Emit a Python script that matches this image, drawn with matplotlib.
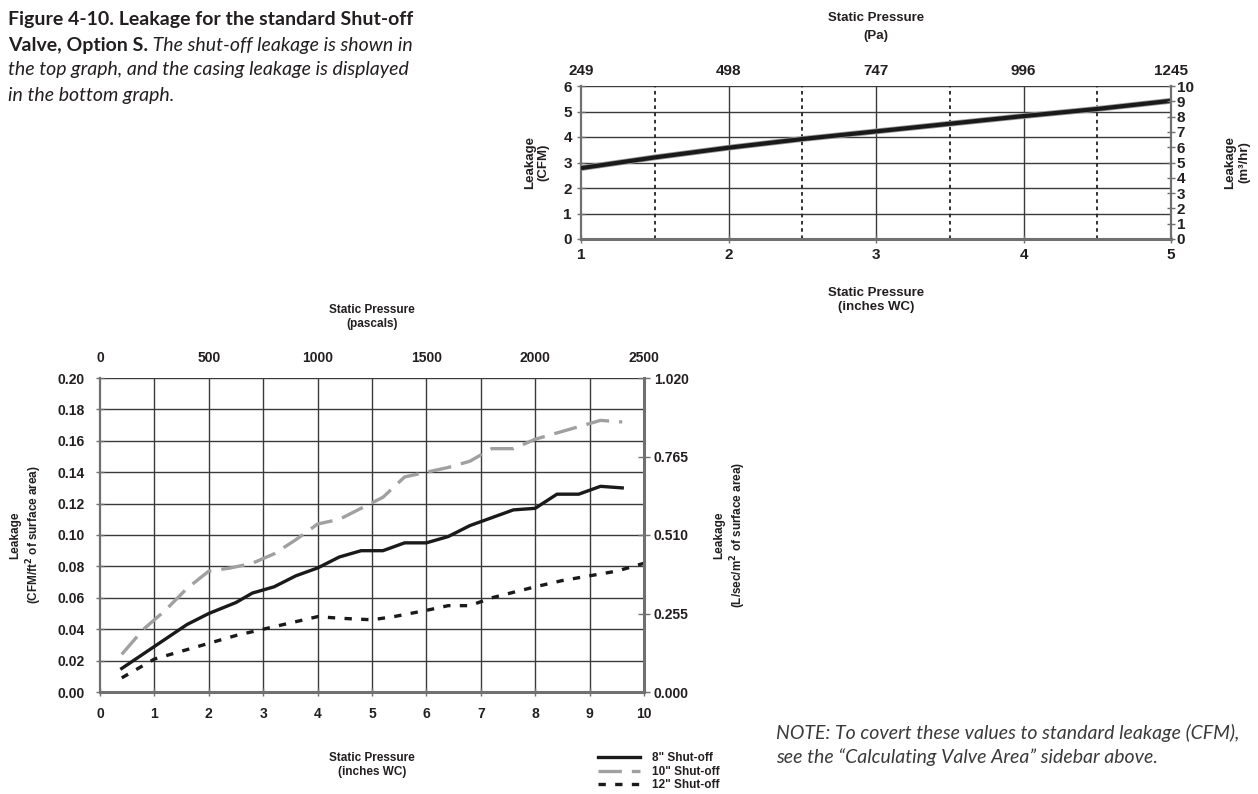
import matplotlib
matplotlib.use('Agg')
import matplotlib.pyplot as plt
from matplotlib.lines import Line2D

plt.rcParams['font.family'] = ['Liberation Sans Narrow', 'Liberation Sans', 'DejaVu Sans']
plt.rcParams['font.weight'] = 'bold'
plt.rcParams['axes.labelweight'] = 'bold'

# ── data: top graph (shut-off leakage) ──────────────────────────────────
top_wc = [1.0, 1.5, 2.0, 2.5, 3.0, 3.5, 4.0, 4.5, 5.0]
top_cfm = [2.78, 3.20, 3.58, 3.92, 4.22, 4.52, 4.82, 5.10, 5.42]
top_pa_ticks = [1, 2, 3, 4, 5]
top_pa_labels = ['249', '498', '747', '996', '1245']

# ── data: bottom graph (casing leakage) ─────────────────────────────────
wc_8 = [0.4, 1.0, 1.6, 2.0, 2.5, 2.8, 3.0, 3.2, 3.6, 4.0, 4.4, 4.8, 5.2,
        5.6, 6.0, 6.4, 6.8, 7.2, 7.6, 8.0, 8.4, 8.8, 9.2, 9.6]
leak_8 = [0.015, 0.029, 0.043, 0.050, 0.057, 0.063, 0.065, 0.067, 0.074,
          0.079, 0.086, 0.090, 0.090, 0.095, 0.095, 0.099, 0.106, 0.111,
          0.116, 0.117, 0.126, 0.126, 0.131, 0.130]

wc_10 = [0.4, 0.8, 1.2, 1.6, 2.0, 2.4, 2.8, 3.2, 3.6, 4.0, 4.4, 4.8, 5.2,
         5.6, 6.0, 6.4, 6.8, 7.2, 7.6, 8.0, 8.4, 8.8, 9.2, 9.6]
leak_10 = [0.024, 0.040, 0.052, 0.066, 0.077, 0.079, 0.082, 0.088, 0.097,
           0.107, 0.110, 0.117, 0.124, 0.137, 0.140, 0.143, 0.147, 0.155,
           0.155, 0.161, 0.165, 0.169, 0.173, 0.172]

wc_12 = [0.4, 1.0, 1.6, 2.0, 2.5, 3.0, 3.5, 4.0, 4.4, 5.0, 5.4, 6.0, 6.4,
         6.8, 7.2, 8.0, 8.5, 9.0, 9.5, 10.0]
leak_12 = [0.009, 0.021, 0.027, 0.031, 0.036, 0.040, 0.044, 0.048, 0.047,
           0.046, 0.048, 0.052, 0.055, 0.055, 0.060, 0.067, 0.071, 0.074,
           0.077, 0.082]

series_labels = ['8" Shut-off', '10" Shut-off', '12" Shut-off']
right_ticks = [0.0, 0.255, 0.510, 0.765, 1.020]
pa_ticks = [0, 500, 1000, 1500, 2000, 2500]

TXT = '#231f20'
GRID = '#3a3a3a'
SPINE = '#707070'

fig = plt.figure(figsize=(12.58, 7.94), dpi=100)


def style_axes(ax):
    for s in ax.spines.values():
        s.set_visible(False)
    ax.spines['left'].set_visible(True)
    ax.spines['bottom'].set_visible(True)
    ax.spines['left'].set_color(SPINE)
    ax.spines['bottom'].set_color(SPINE)
    ax.spines['left'].set_linewidth(1.6)
    ax.spines['bottom'].set_linewidth(2.2)
    ax.tick_params(direction='inout', length=6, width=1, color=SPINE,
                   labelsize=10, labelcolor=TXT)


# ── top graph ───────────────────────────────────────────────────────────
ax1 = fig.add_axes([581 / 1258, 1 - 239 / 794, 590 / 1258, 153 / 794])
ax1.set_xlim(1, 5)
ax1.set_ylim(0, 6)
style_axes(ax1)
ax1.set_xticks([1, 2, 3, 4, 5])
ax1.set_yticks(range(7))
ax1.tick_params(labelsize=11)
for y in range(1, 7):
    ax1.axhline(y, color=GRID, lw=1, zorder=1)
for x in [2, 3, 4]:
    ax1.axvline(x, color=GRID, lw=1, zorder=1)
for x in [1.5, 2.5, 3.5, 4.5]:
    ax1.axvline(x, color='#222222', lw=1.3, ls=(0, (2, 2)), zorder=1)
ax1.plot(top_wc, top_cfm, color='#9a9a9a', lw=4.2, zorder=3, solid_capstyle='butt')
ax1.plot(top_wc, top_cfm, color='#1a1a1a', lw=3, zorder=4, solid_capstyle='butt')
ax1.set_ylabel('Leakage\n(CFM)', fontsize=9.5, color=TXT, labelpad=10)
ax1.set_xlabel('Static Pressure\n(inches WC)', fontsize=9.5, color=TXT, labelpad=18)

ax1r = ax1.twinx()
ax1r.set_ylim(0, 10)
ax1r.set_yticks(range(11))
for s in ax1r.spines.values():
    s.set_visible(False)
ax1r.spines['right'].set_visible(True)
ax1r.spines['right'].set_color(SPINE)
ax1r.spines['right'].set_linewidth(1.6)
ax1r.tick_params(direction='inout', length=6, width=1, color=SPINE,
                 labelsize=11, labelcolor=TXT, pad=1)
ax1r.set_ylabel('Leakage\n(m\u00b3/hr)', fontsize=9.5, color=TXT, labelpad=22)

ax1t = ax1.twiny()
ax1t.set_xlim(1, 5)
ax1t.set_xticks(top_pa_ticks)
ax1t.set_xticklabels(top_pa_labels)
for s in ax1t.spines.values():
    s.set_visible(False)
ax1t.tick_params(length=0, labelsize=11, labelcolor=TXT, pad=6)
ax1t.set_xlabel('Static Pressure\n(Pa)', fontsize=9.5, color=TXT, labelpad=18,
                linespacing=1.6)

# ── bottom graph ────────────────────────────────────────────────────────
ax2 = fig.add_axes([100 / 1258, 1 - 692 / 794, 544 / 1258, 314 / 794])
ax2.set_xlim(0, 10)
ax2.set_ylim(0, 0.20)
style_axes(ax2)
ax2.set_xticks(range(11))
ax2.set_yticks([i * 0.02 for i in range(11)])
ax2.yaxis.set_major_formatter(lambda v, p: f'{v:.2f}')
for y in [i * 0.02 for i in range(1, 11)]:
    ax2.axhline(y, color=GRID, lw=1, zorder=1)
for x in range(1, 10):
    ax2.axvline(x, color=GRID, lw=1, zorder=1)
ax2.tick_params(labelsize=10, pad=8)

ax2.plot(wc_8, leak_8, color='#1a1a1a', lw=2.4, zorder=4, label=series_labels[0])
ax2.plot(wc_10, leak_10, color='#a0a0a0', lw=2.4, ls=(0, (7, 3)), zorder=3,
         label=series_labels[1])
ax2.plot(wc_12, leak_12, color='#1a1a1a', lw=2.4, ls=(0, (2.2, 2.8)), zorder=4,
         label=series_labels[2])
ax2.set_ylabel('Leakage\n(CFM/ft$^\\mathbf{2}$ of surface area)', fontsize=8.5,
               color=TXT, labelpad=10)
ax2.set_xlabel('Static Pressure\n(inches WC)', fontsize=8.5, color=TXT,
               labelpad=22)

ax2r = ax2.twinx()
ax2r.set_ylim(0, 1.02)
ax2r.set_yticks(right_ticks)
ax2r.yaxis.set_major_formatter(lambda v, p: f'{v:.3f}')
for s in ax2r.spines.values():
    s.set_visible(False)
ax2r.spines['right'].set_visible(True)
ax2r.spines['right'].set_color(SPINE)
ax2r.spines['right'].set_linewidth(2.2)
ax2r.tick_params(direction='inout', length=8, width=1, color=SPINE,
                 labelsize=10, labelcolor=TXT, pad=3)
ax2r.set_ylabel('Leakage\n(L/sec/m$^\\mathbf{2}$ of surface area)', fontsize=8.5,
                color=TXT, labelpad=18)

ax2t = ax2.twiny()
ax2t.set_xlim(0, 2500)
ax2t.set_xticks(pa_ticks)
for s in ax2t.spines.values():
    s.set_visible(False)
ax2t.tick_params(length=0, labelsize=10, labelcolor=TXT, pad=9)
ax2t.set_xlabel('Static Pressure\n(pascals)', fontsize=8.5, color=TXT, labelpad=18)

handles = [Line2D([], [], color='#1a1a1a', lw=2.4),
           Line2D([], [], color='#a0a0a0', lw=2.4, ls=(0, (7, 3))),
           Line2D([], [], color='#1a1a1a', lw=2.4, ls=(0, (2.2, 2.8)))]
fig.legend(handles, series_labels, loc='upper left',
           bbox_to_anchor=(592 / 1258, 1 - 746 / 794), frameon=False,
           fontsize=8.5, handlelength=3.6, handletextpad=1.0,
           labelspacing=0.15, borderpad=0, labelcolor=TXT)

# ── caption and note ────────────────────────────────────────────────────
cap = dict(fontsize=14, color=TXT, family='Lato')
fig.text(8 / 1258, 1 - 20 / 794, 'Figure 4-10. Leakage for the standard Shut-off',
         fontweight='bold', va='center', **cap)
b = fig.text(8 / 1258, 1 - 45 / 794, 'Valve, Option S.', fontweight='bold',
             va='center', **cap)
ax2.annotate(' The shut-off leakage is shown in', xy=(1, 0), xycoords=b,
             va='bottom', ha='left', style='italic', fontweight='normal',
             annotation_clip=False, **cap)
fig.text(8 / 1258, 1 - 70 / 794, 'the top graph, and the casing leakage is displayed',
         style='italic', fontweight='normal', va='center', **cap)
fig.text(8 / 1258, 1 - 95 / 794, 'in the bottom graph.',
         style='italic', fontweight='normal', va='center', **cap)

fig.text(776 / 1258, 1 - 745 / 794,
         'NOTE: To covert these values to standard leakage (CFM),\n'
         'see the \u201cCalculating Valve Area\u201d sidebar above.',
         style='italic', fontweight='normal', va='center', ha='left',
         linespacing=1.45, fontsize=14, color='#3a3a3a', family='Lato')

fig.savefig('out.png', dpi=100, facecolor='white')
